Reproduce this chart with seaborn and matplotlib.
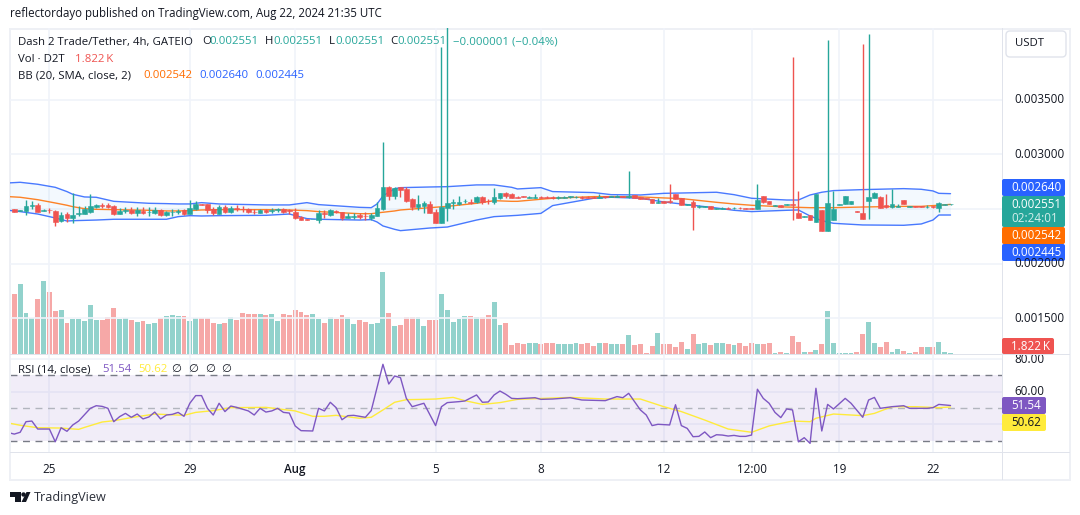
import numpy as np
import pandas as pd
import matplotlib
matplotlib.use('Agg')
import matplotlib.pyplot as plt
from matplotlib.patches import Circle, FancyBboxPatch, Rectangle, Polygon
import seaborn as sns

# prices are written in millionths of USDT
opens = [2500,2485,2482,2528,2537,2485,2491,2482,2390,2454,
         2421,2457,2457,2473,2518,2537,2537,2524,2457,2479,
         2491,2467,2485,2470,2467,2491,2448,2470,2476,2491,
         2457,2503,2546,2546,2500,2457,2518,2473,2512,2503,
         2500,2476,2464,2494,2479,2488,2500,2488,2470,2424,
         2412,2406,2399,2464,2445,2482,2470,2421,2427,2442,
         2439,2421,2436,2500,2701,2619,2701,2683,2592,2515,
         2528,2546,2473,2372,2509,2555,2546,2570,2567,2564,
         2607,2576,2564,2598,2643,2637,2610,2619,2604,2604,
         2610,2610,2607,2601,2604,2610,2607,2610,2610,2613,
         2604,2616,2613,2613,2619,2613,2628,2613,2601,2589,
         2558,2570,2570,2637,2598,2540,2564,2521,2518,2528,
         2500,2503,2512,2506,2512,2509,2509,2500,2616,2573,
         2531,2534,2537,2543,2460,2430,2442,2381,2491,2302,
         2399,2540,2546,2549,2482,2464,2573,2601,2610,2537,
         2515,2518,2582,2518,2524,2524,2515,2528,2509,2540,2543]
highs = [2503,2491,2582,2573,2555,2500,2509,2491,2470,2473,
         2643,2528,2524,2637,2546,2552,2552,2534,2509,2518,
         2515,2518,2515,2515,2518,2497,2482,2497,2503,2497,
         2582,2573,2546,2546,2515,2540,2534,2531,2534,2524,
         2506,2497,2497,2500,2509,2512,2512,2503,2506,2436,
         2412,2409,2488,2488,2500,2491,2476,2460,2460,2460,
         2476,2460,2567,3113,2711,2698,2701,2698,2601,2628,
         2573,2573,2500,3981,4250,2592,2619,2592,2589,2619,
         2619,2592,2692,2647,2656,2647,2619,2619,2622,2637,
         2619,2619,2616,2619,2619,2622,2622,2619,2616,2616,
         2637,2619,2622,2625,2622,2848,2628,2613,2604,2589,
         2598,2570,2729,2640,2598,2546,2582,2534,2528,2528,
         2512,2518,2515,2515,2515,2512,2512,2729,2616,2573,
         2540,2534,2546,3889,2665,2439,2442,2637,2491,4045,
         2665,2546,2619,2573,2482,4008,4100,2656,2619,2637,
         2683,2546,2582,2528,2528,2528,2537,2531,2561,2546,2546]
lows = [2470,2485,2448,2500,2473,2482,2460,2345,2384,2384,
        2372,2436,2454,2467,2512,2512,2512,2445,2454,2467,
        2451,2439,2454,2436,2454,2436,2436,2433,2454,2445,
        2454,2491,2540,2467,2445,2454,2460,2467,2482,2476,
        2464,2454,2460,2460,2460,2473,2467,2454,2406,2399,
        2399,2406,2375,2418,2436,2460,2399,2415,2406,2412,
        2399,2399,2436,2491,2582,2595,2610,2564,2491,2491,
        2464,2464,2372,2372,2393,2500,2537,2555,2546,2558,
        2546,2546,2546,2592,2601,2598,2598,2613,2601,2601,
        2598,2598,2595,2595,2598,2601,2598,2592,2598,2601,
        2598,2604,2610,2610,2610,2604,2604,2595,2592,2558,
        2555,2558,2558,2595,2540,2537,2311,2512,2515,2503,
        2497,2497,2500,2503,2503,2500,2500,2500,2555,2543,
        2528,2518,2534,2400,2421,2430,2399,2381,2302,2302,
        2399,2540,2546,2549,2470,2409,2409,2598,2512,2512,
        2512,2515,2543,2515,2515,2515,2512,2512,2473,2537,2540]
closes = [2473,2491,2524,2537,2473,2491,2488,2384,2445,2421,
          2445,2464,2500,2524,2537,2528,2521,2457,2482,2491,
          2467,2491,2460,2476,2491,2448,2473,2476,2482,2454,
          2509,2549,2540,2491,2467,2518,2470,2509,2503,2497,
          2476,2470,2491,2476,2488,2497,2476,2482,2421,2399,
          2403,2409,2460,2457,2491,2470,2418,2436,2433,2424,
          2433,2448,2509,2701,2619,2692,2674,2573,2518,2546,
          2555,2464,2372,2518,2555,2564,2564,2576,2555,2610,
          2564,2573,2607,2643,2619,2601,2604,2613,2610,2610,
          2604,2604,2601,2610,2613,2619,2613,2604,2604,2604,
          2613,2607,2619,2622,2613,2622,2604,2595,2595,2558,
          2564,2558,2564,2595,2540,2546,2515,2528,2524,2503,
          2509,2509,2503,2512,2506,2503,2503,2579,2564,2543,
          2537,2518,2543,2537,2421,2436,2399,2637,2302,2555,
          2500,2546,2619,2573,2470,2409,2610,2647,2512,2518,
          2546,2528,2543,2524,2518,2518,2521,2515,2555,2546,2546]

# volume in thousands, first bar is the one cut off at the left edge
volumes = [139,121,141,83,73,111,147,125,87,89,
           63,71,71,67,99,69,69,75,93,71,
           73,69,65,67,61,63,73,77,79,77,
           77,67,73,73,73,63,61,63,75,69,
           83,81,81,81,79,81,67,81,79,89,
           85,79,81,71,63,75,71,79,75,61,
           69,65,61,63,165,83,57,59,75,75,
           75,57,69,69,121,89,65,71,77,77,
           75,75,79,105,59,63,19,23,
           20,22,22,20,22,22,20,20,20,22,
           20,22,16,22,22,20,20,20,38,19,
           20,2,16,42,20,20,14,24,10,40,
           20,22,18,22,22,20,18,22,16,22,
           20,20,22,2,4,2,36,24,4,4,
           8,20,86,22,2,2,2,4,40,64,
           22,14,24,4,10,6,2,4,14,14,
           14,24,4,1.822]

bb_idx = [0,2,5,8,10,11,13,15,18,24,27,29,31,33,36,44,48,51,53,60,
          62,63,64,66,67,72,75,80,83,86,87,91,93,100,103,108,112,115,
          121,124,127,133,135,137,139,141,146,153,156,158,159,161]
bb_upper = [2738,2744,2726,2698,2659,2634,2610,2607,2570,2552,
            2549,2546,2546,2558,2546,2537,2537,2558,2540,2515,
            2512,2546,2619,2686,2695,2701,2704,2720,2720,2698,
            2683,2695,2659,2650,2631,2628,2643,2646,2653,2631,
            2598,2582,2582,2628,2653,2668,2677,2686,2680,2665,2643,2640]
bb_mid = [2613,2607,2585,2555,2534,2521,2503,2497,2494,2488,
          2482,2482,2485,2491,2494,2494,2491,2485,2476,2457,
          2457,2464,2470,2482,2491,2512,2524,2552,2576,2570,
          2570,2589,2598,2613,2613,2610,2601,2595,2561,2546,
          2534,2518,2515,2512,2512,2512,2518,2524,2524,2531,2534,2542]
bb_lower = [2488,2476,2454,2418,2390,2393,2396,2399,2406,2406,
            2406,2430,2439,2436,2439,2442,2454,2412,2406,2399,
            2403,2381,2345,2314,2302,2326,2335,2399,2430,2439,
            2442,2460,2531,2598,2607,2598,2564,2546,2509,2488,
            2476,2488,2491,2436,2393,2369,2354,2351,2363,2399,2445,2445]

rsi_idx = [0,1,2,3,4,5,7,8,9,10,11,12,14,15,16,17,18,19,20,21,22,23,24,25,26,27,28,29,30,
           31,32,33,34,35,36,37,38,39,41,42,43,44,45,46,47,48,49,50,52,53,54,55,56,57,58,59,
           61,62,64,65,66,67,68,69,71,73,74,75,77,78,80,81,82,83,84,85,86,87,
           90,91,93,96,98,102,104,105,106,108,109,110,111,113,114,115,116,117,118,119,120,
           121,122,123,124,125,126,127,128,129,130,131,132,133,134,135,136,137,138,139,140,
           141,143,144,146,147,148,149,151,153,154,157,158,159,161]
rsi_vals = [34.9,34.0,35.1,41.6,42.0,37.1,37.1,29.3,37.9,35.7,39.6,42.0,49.8,51.4,51.0,49.8,41.6,44.7,46.7,44.3,
            46.3,43.3,44.5,47.5,43.3,45.7,46.1,47.3,44.9,
            52.9,57.6,57.6,49.8,45.7,52.9,47.8,51.2,50.4,48.2,45.7,49.8,47.5,48.2,49.8,47.3,46.9,39.0,36.1,35.9,
            49.8,48.2,53.5,50.2,42.8,45.3,45.5,
            44.3,48.4,76.8,64.7,69.6,68.6,55.9,50.8,52.9,39.2,50.8,53.3,53.9,54.3,58.0,53.5,53.7,58.0,60.4,58.4,55.9,55.7,
            56.3,55.3,55.5,56.3,54.9,54.5,57.0,56.3,59.0,48.8,45.7,39.2,40.0,39.6,52.0,39.2,37.5,32.4,32.6,35.3,31.8,
            33.6,33.4,32.8,33.2,32.6,32.6,33.4,61.5,55.9,52.9,47.3,44.1,49.4,48.8,29.3,31.8,28.3,62.1,35.9,52.2,
            49.4,55.9,52.9,44.3,54.9,56.5,49.8,50.8,51.4,49.8,49.8,50.2,52.2,51.54]

rsi_ma_idx = [0,2,5,9,12,13,16,18,21,25,30,32,35,38,44,49,52,54,56,60,62,64,66,68,71,73,76,78,81,84,87,
              96,102,108,112,115,119,123,127,130,134,137,138,141,146,148,151,155,159,161]
rsi_ma_vals = [40.8,39.4,37.9,37.7,36.9,38.1,41.4,42.2,44.1,46.3,45.5,47.3,48.4,50.2,50.4,48.2,44.9,44.9,45.5,43.7,
               44.3,48.8,53.5,55.1,55.3,55.5,56.5,54.5,52.2,53.3,55.3,
               56.5,55.5,55.5,50.8,47.8,42.6,37.1,35.1,39.0,42.0,41.6,43.7,46.3,45.3,46.7,50.8,50.8,50.2,50.62]

price_ticks = [0.0015, 0.0020, 0.0025, 0.0030, 0.0035]
price_tick_labels = ['0.001500', '0.002000', '', '0.003000', '0.003500']
rsi_ticks = [40, 60, 80]
rsi_tick_labels = ['', '60.00', '80.00']
date_idx = [7, 31, 49, 73, 91, 112, 127, 142, 158]
date_labels = ['25', '29', 'Aug', '5', '8', '12', '12:00', '19', '22']

UP = '#26a69a'
DOWN = '#ef5350'
GRID = '#f0f3fa'
FRAME = '#e0e3eb'
TEXT = '#131722'
FONT = 'Open Sans'
W, H = 1080, 515

sns.set_theme(style='white', rc={'axes.edgecolor': FRAME})
plt.rcParams['font.family'] = [FONT, 'DejaVu Sans']
plt.rcParams['ytick.alignment'] = 'center'

fig = plt.figure(figsize=(W / 100, H / 100), dpi=100, facecolor='white')


def pane(left, top, right, bottom):
    return fig.add_axes([left / W, 1 - bottom / H, (right - left) / W, (bottom - top) / H])


def px_text(x, y, s, color=TEXT, size=8.4, **kw):
    kw.setdefault('va', 'center')
    fig.text(x / W, 1 - y / H, s, color=color, fontsize=size, **kw)


def px_box(x0, y0, x1, y1, color):
    fig.patches.append(FancyBboxPatch((x0, H - y1), x1 - x0, y1 - y0, transform=None,
                                      boxstyle='round,pad=0,rounding_size=2', fc=color, ec='none'))


xlim = (0.265, 169.8)
candle_idx = np.arange(1, len(opens) + 1)
o = np.array(opens) / 1e6
h = np.array(highs) / 1e6
l = np.array(lows) / 1e6
c = np.array(closes) / 1e6

# volume sits in its own axes under the candles, sharing the same pane
ax_vol = pane(10, 28, 1002, 355)
vol_df = pd.DataFrame({'idx': np.arange(len(volumes)), 'vol': volumes,
                       'side': ['down'] + ['up' if a >= b else 'down' for a, b in zip(closes, opens)]})
sns.barplot(data=vol_df, x='idx', y='vol', hue='side', native_scale=True, dodge=False,
            palette={'up': UP, 'down': DOWN}, alpha=0.5, width=0.84, legend=False, saturation=1,
            edgecolor='none', linewidth=0, ax=ax_vol)
ax_vol.set_xlim(*xlim)
ax_vol.set_ylim(-1.4, 652)
ax_vol.axis('off')

ax = pane(10, 28, 1002, 355)
ax.patch.set_alpha(0)
ax.set_zorder(2)
ax_vol.set_zorder(1)
ax.set_xlim(*xlim)
ax.set_ylim(0.0011656, 0.0041540)
ax.set_yticks(price_ticks, price_tick_labels)
ax.set_xticks(date_idx)
ax.set_xticklabels([])
ax.yaxis.tick_right()
ax.tick_params(axis='y', length=0, pad=9, labelsize=8.4, labelcolor=TEXT)
ax.tick_params(axis='x', length=0)
ax.grid(True, color=GRID, lw=1.2, zorder=0)
ax.set_axisbelow(True)
for s in ax.spines.values():
    s.set_visible(False)

ax.fill_between(np.array(bb_idx), np.array(bb_lower) / 1e6, np.array(bb_upper) / 1e6,
                color='#2196f3', alpha=0.05, lw=0, zorder=1)
sns.lineplot(x=bb_idx, y=np.array(bb_upper) / 1e6, color='#2962ff', lw=1, alpha=0.85, ax=ax, zorder=2)
sns.lineplot(x=bb_idx, y=np.array(bb_lower) / 1e6, color='#2962ff', lw=1, alpha=0.85, ax=ax, zorder=2)
sns.lineplot(x=bb_idx, y=np.array(bb_mid) / 1e6, color='#ff6d00', lw=1, alpha=0.85, ax=ax, zorder=2)

colors = [UP if a >= b else DOWN for a, b in zip(c, o)]
ax.vlines(candle_idx, l, h, colors=colors, lw=1, zorder=3)
ax.bar(candle_idx, np.abs(c - o), bottom=np.minimum(o, c), width=0.8, color=colors,
       edgecolor=colors, lw=0.4, zorder=4)
ax.set_xlim(*xlim)
ax.set_ylim(0.0011656, 0.0041540)
ax.set_xlabel('')
ax.set_ylabel('')

# RSI pane
ax_rsi = pane(10, 355, 1002, 453)
ax_rsi.set_xlim(*xlim)
ax_rsi.set_ylim(22.4, 82.5)
ax_rsi.axhspan(30, 70, color='#7e57c2', alpha=0.1, lw=0, zorder=1)
for level, col in [(70, '#787b86'), (50, '#b2b5be'), (30, '#787b86')]:
    ax_rsi.axhline(level, color=col, lw=1, dashes=(5, 4), zorder=2)
sns.lineplot(x=rsi_ma_idx, y=rsi_ma_vals, color='#ffeb3b', lw=1, ax=ax_rsi, zorder=3)
sns.lineplot(x=rsi_idx, y=rsi_vals, color='#7e57c2', lw=1, ax=ax_rsi, zorder=4)
ax_rsi.set_xlim(*xlim)
ax_rsi.set_ylim(22.4, 82.5)
ax_rsi.set_yticks(rsi_ticks, rsi_tick_labels)
ax_rsi.yaxis.tick_right()
ax_rsi.tick_params(axis='y', length=0, pad=9, labelsize=8.4, labelcolor=TEXT)
ax_rsi.set_xticks(date_idx, date_labels)
ax_rsi.tick_params(axis='x', length=0, pad=7, labelsize=8.4, labelcolor=TEXT)
ax_rsi.xaxis.get_ticklabels()[2].set_fontweight('semibold')
ax_rsi.grid(True, color=GRID, lw=1.2, zorder=0)
ax_rsi.set_axisbelow(True)
ax_rsi.set_xlabel('')
ax_rsi.set_ylabel('')
for s in ax_rsi.spines.values():
    s.set_visible(False)

# outer frame and pane separators
for x0, y0, x1, y1 in [(10, 28, 1070, 30), (9, 28, 11, 481), (1069, 28, 1071, 481), (9, 479, 1071, 481)]:
    fig.patches.append(Rectangle((x0, H - y1), x1 - x0, y1 - y0, transform=None, fc='#eef0f5', ec='none'))
for x0, y0, x1, y1 in [(1002, 28, 1003, 480), (10, 354, 1070, 355), (10, 452, 1070, 453)]:
    fig.patches.append(Rectangle((x0, H - y1), x1 - x0, y1 - y0, transform=None, fc=FRAME, ec='none'))

# header and legend rows
px_text(10, 14, 'reflectordayo published on TradingView.com, Aug 22, 2024 21:35 UTC', size=8.3)
px_text(18, 42, 'Dash 2 Trade/Tether, 4h, GATEIO', size=8.2)
for lab_x, val_x, lab in [(202, 209, 'O'), (265, 273, 'H'), (329, 335, 'L'), (390, 397, 'C')]:
    px_text(lab_x, 42, lab, size=8.2)
    px_text(val_x, 42, '0.002551', color=UP, size=8.2)
px_text(453, 42, '\u22120.000001 (\u22120.04%)', color=UP, size=8.2)
px_text(18, 59, 'Vol \u00b7 D2T', size=8.2)
px_text(75, 59, '1.822\u2009K', color=DOWN, size=8.2)
px_text(18, 76, 'BB (20, SMA, close, 2)', size=8.2)
px_text(143, 76, '0.002542', color='#ff6d00', size=8.2)
px_text(199, 76, '0.002640', color='#2962ff', size=8.2)
px_text(255, 76, '0.002445', color='#2962ff', size=8.2)
px_text(18, 370, 'RSI (14, close)', size=8.2)
px_text(102, 370, '51.54', color='#7e57c2', size=8.2)
px_text(138, 370, '50.62', color='#ffeb3b', size=8.2)
for x in [176, 193, 210, 226]:
    px_text(x, 370, '\u2205', size=8.2, ha='center')

# price scale labels
fig.patches.append(FancyBboxPatch((1006, H - 57), 60, 26, transform=None, boxstyle='round,pad=0,rounding_size=4',
                                  fc='white', ec=FRAME, lw=1))
px_text(1015, 44, 'USDT', size=8.2)
px_box(1002, 179, 1065, 196, '#2962ff')
px_text(1011, 187.5, '0.002640', color='white')
px_box(1002, 196, 1065, 227, UP)
px_text(1011, 204, '0.002551', color='white')
px_text(1011, 219, '02:24:01', color='#d4eeeb')
px_box(1002, 227, 1065, 244, '#ff6d00')
px_text(1011, 235.5, '0.002542', color='white')
px_box(1002, 244, 1065, 261, '#2962ff')
px_text(1011, 252.5, '0.002445', color='white')
px_box(1002, 338, 1054, 354, DOWN)
px_text(1011, 346, '1.822\u2009K', color='white')
px_box(1002, 397, 1046, 414, '#7e57c2')
px_text(1011, 405.5, '51.54', color='white')
px_box(1002, 414, 1046, 431, '#ffeb3b')
px_text(1011, 422.5, '50.62')

# footer logo
LOGO = '#131722'
fig.patches.append(Polygon([(10, H - 492), (21, H - 492), (21, H - 502), (15, H - 502), (15, H - 497), (10, H - 497)],
                           closed=True, transform=None, fc=LOGO, ec='none'))
fig.patches.append(Circle((23.5, H - 494.5), 2.2, transform=None, fc=LOGO, ec='none'))
fig.patches.append(Polygon([(26.5, H - 492), (30.5, H - 492), (26, H - 502), (21.5, H - 502)],
                           closed=True, transform=None, fc=LOGO, ec='none'))
px_text(34, 497, 'TradingView', size=9.1, color='#2a2e39')

fig.savefig('out.png', dpi=100)
